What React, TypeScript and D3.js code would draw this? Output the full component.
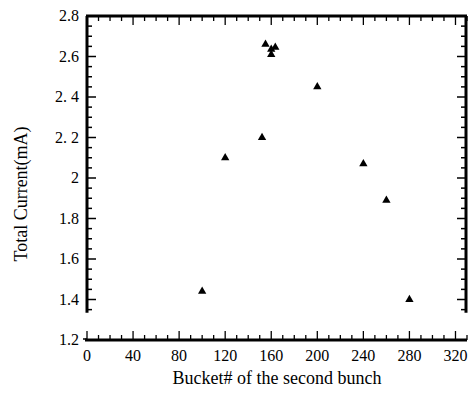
import * as d3 from 'd3'

const buckets = [100, 120, 152, 155, 160, 160, 163.5, 200, 240, 260, 280]
const currents = [1.44, 2.1, 2.2, 2.66, 2.61, 2.635, 2.645, 2.45, 2.07, 1.89, 1.4]
const xTickValues = [0, 40, 80, 120, 160, 200, 240, 280, 320]
const yTickValues = [1.2, 1.4, 1.6, 1.8, 2.0, 2.2, 2.4, 2.6, 2.8]
const yTickLabels = ['1.2', '1.4', '1.6', '1.8', '2', '2. 2', '2. 4', '2.6', '2.8']

const W = 470
const H = 393
const font = 'Liberation Serif, DejaVu Serif, serif'

const App = () => {
  const x = d3.scaleLinear().domain([0, 330]).range([87, 467])
  const y = d3.scaleLinear().domain([1.2, 2.8]).range([340, 16])
  const sideBottom = y(1.335)

  const xMinor = d3.range(0, 331, 10)
  const yMinor = d3.range(1.35, 2.801, 0.05)

  const tri = d3.symbol().type(d3.symbolTriangle).size(30)

  return (
    <svg width={W} height={H} style={{ position: 'absolute', left: 0, top: 0, fontFamily: font }}>
      <rect width={W} height={H} fill="#fff" />
      {/* frame */}
      <line x1={x(0) - 1} x2={x(330)} y1={y(2.8)} y2={y(2.8)} stroke="#000" strokeWidth={3} />
      <line x1={x(0)} x2={x(0)} y1={y(2.8)} y2={sideBottom} stroke="#000" strokeWidth={3} />
      <line x1={x(330) - 1} x2={x(330) - 1} y1={y(2.8)} y2={sideBottom} stroke="#000" strokeWidth={3} />
      <line x1={x(0) - 2} x2={x(330)} y1={y(1.2)} y2={y(1.2)} stroke="#000" strokeWidth={3} />

      {/* x ticks bottom & top */}
      {xMinor.map((v) => {
        const major = v % 40 === 0
        const len = major ? 9 : 5
        return (
          <g key={'xt' + v}>
            <line x1={x(v)} x2={x(v)} y1={y(1.2)} y2={y(1.2) - len} stroke="#000" strokeWidth={1.3} />
            <line x1={x(v)} x2={x(v)} y1={y(2.8)} y2={y(2.8) + len} stroke="#000" strokeWidth={1.3} />
          </g>
        )
      })}

      {/* y ticks left & right */}
      {yMinor.map((v, i) => {
        const major = Math.abs(v * 5 - Math.round(v * 5)) < 1e-6
        const len = major ? 9 : 5
        return (
          <g key={'yt' + i}>
            <line x1={x(0)} x2={x(0) + len} y1={y(v)} y2={y(v)} stroke="#000" strokeWidth={1.5} />
            <line x1={x(330) - 1} x2={x(330) - 1 - len} y1={y(v)} y2={y(v)} stroke="#000" strokeWidth={1.5} />
          </g>
        )
      })}
      <line x1={x(0) - 4} x2={x(0)} y1={y(1.2) - 1} y2={y(1.2) - 1} stroke="#000" strokeWidth={1.5} />

      {/* x tick labels */}
      {xTickValues.map((v) => (
        <text key={'xl' + v} x={x(v)} y={361} textAnchor="middle" fontFamily={font} fontSize={16} fill="#000">
          {v}
        </text>
      ))}

      {/* y tick labels */}
      {yTickValues.map((v, i) => (
        <text key={'yl' + v} x={79} y={y(v) + 5} textAnchor="end" fontFamily={font} fontSize={16} fill="#000">
          {yTickLabels[i]}
        </text>
      ))}

      {/* points */}
      {buckets.map((b, i) => (
        <path key={'p' + i} d={tri()!} transform={`translate(${x(b)},${y(currents[i])})`} fill="#000" />
      ))}

      {/* axis titles */}
      <text x={277} y={384} textAnchor="middle" fontFamily={font} fontSize={18} fill="#000">
        Bucket# of the second bunch
      </text>
      <text
        transform={`translate(27,${194}) rotate(-90)`}
        textAnchor="middle"
        fontFamily={font}
        fontSize={18}
        fill="#000"
      >
        Total Current(mA)
      </text>
    </svg>
  )
}

export default App
